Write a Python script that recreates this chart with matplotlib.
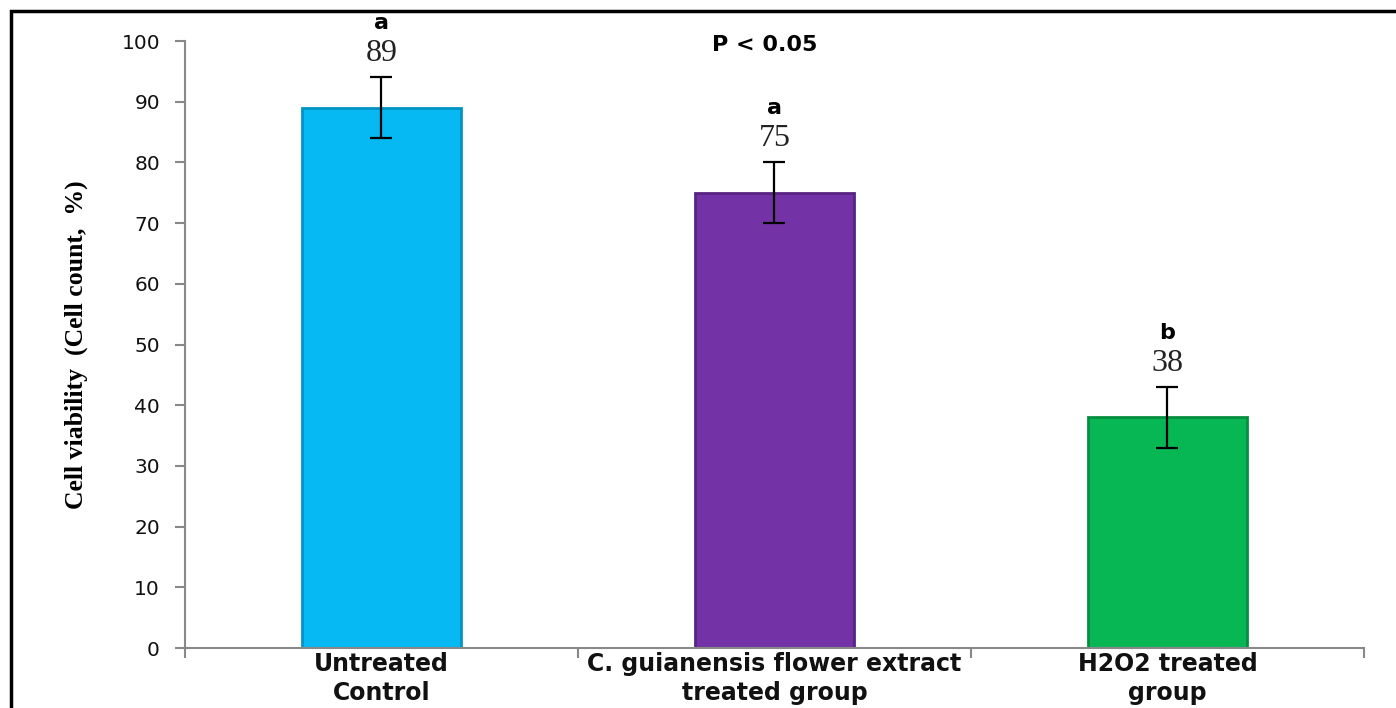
import matplotlib
matplotlib.use("Agg")
import matplotlib.pyplot as plt
import numpy as np
from matplotlib.patches import Rectangle

groups = ["Untreated\nControl", "C. guianensis flower extract\ntreated group", "H2O2 treated\ngroup"]
viability = [89, 75, 38]
errors = [5, 5, 5]
letters = ["a", "a", "b"]
colors = ["#06B9F2", "#7333A6", "#07B753"]
edges = ["#0393C4", "#582483", "#058E40"]

fig = plt.figure(figsize=(13.96, 7.08), dpi=100)
ax = fig.add_axes([0.1325, 0.0847, 0.8445, 0.8573])

x = np.arange(len(groups))
ax.bar(x, viability, width=0.405, color=colors, edgecolor=edges, linewidth=2, zorder=2)
ax.errorbar(x, viability, yerr=errors, fmt="none", ecolor="black",
            elinewidth=1.6, capsize=8, capthick=1.6, zorder=3)

for xi, v, e, l in zip(x, viability, errors, letters):
    ax.text(xi, v + e + 3.9, str(v), ha="center", va="center", fontsize=23,
            family="Liberation Serif", color="#222222", clip_on=False)
    ax.text(xi, v + e + 8.9, l, ha="center", va="center", fontsize=16,
            fontweight="bold", family="DejaVu Sans", clip_on=False)

ax.text(0.975, 99.4, "P < 0.05", ha="center", va="center", fontsize=16,
        fontweight="bold", family="DejaVu Sans")

ax.set_xlim(-0.5, 2.5)
ax.set_ylim(0, 100)
ax.set_yticks(np.arange(0, 101, 10))
ax.tick_params(axis="y", labelsize=14.5, colors="#888888", labelcolor="#111111",
               length=7, width=1.5, pad=11)
ax.set_xticks([-0.5, 0.5, 1.5, 2.5], minor=False)
ax.set_xticklabels([])
ax.tick_params(axis="x", which="major", length=7, width=1.5, colors="#888888")
ax.set_xticks(x, minor=True)
ax.set_xticklabels(groups, minor=True, fontsize=17, fontweight="bold", linespacing=1.25)
ax.tick_params(axis="x", which="minor", length=0, pad=3, labelcolor="#111111")

for s in ["top", "right"]:
    ax.spines[s].set_visible(False)
for s in ["left", "bottom"]:
    ax.spines[s].set_color("#888888")
    ax.spines[s].set_linewidth(1.5)

ax.set_ylabel("Cell viability  (Cell count,  %)", family="Liberation Serif",
              fontweight="bold", fontsize=18.5, labelpad=24)

fig.patches.append(Rectangle((11 / 1396, -0.2), 1.2, 1.2 - 11 / 708 + 0.0,
                             transform=fig.transFigure, fill=False,
                             edgecolor="black", linewidth=2.5, zorder=10))

fig.savefig("out.png", dpi=100)
